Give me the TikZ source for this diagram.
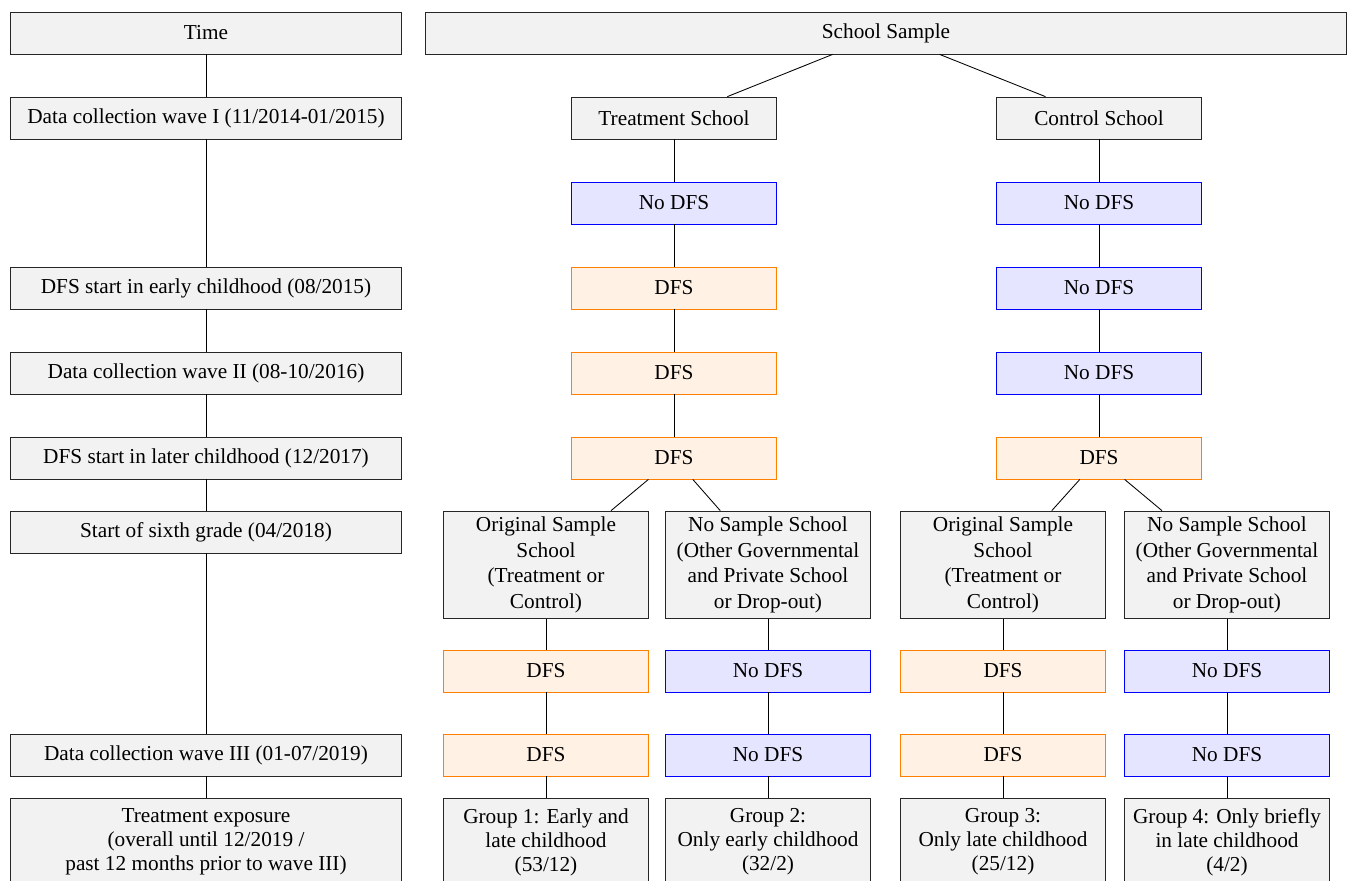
\documentclass[tikz,border=0pt]{standalone}
\usepackage{fontspec}
\setmainfont{Liberation Serif}
\usepackage{xcolor}
\usepackage{tikz}

\definecolor{boxgray}{RGB}{242,242,242}
\tikzset{
  graybox/.style={draw=black!85, fill=boxgray, minimum width=96pt, minimum height=19.7pt, align=center, inner sep=2pt},
  timebox/.style={graybox, minimum width=184pt},
  schoolbox/.style={graybox, inner ysep=2.8pt},
  nodfs/.style={draw=blue, fill=blue!10, minimum width=96pt, minimum height=19.7pt},
  dfsbox/.style={draw=orange, fill=orange!10, minimum width=96pt, minimum height=19.7pt},
  groupbox/.style={graybox, anchor=north, inner ysep=4.8pt, font={\fontsize{10pt}{11.3pt}\selectfont}},
}

\begin{document}
\begin{tikzpicture}[x=0.47pt, y=-0.47pt]
\useasboundingbox (0,0) rectangle (1354,880);

% time line
\node[timebox] (time) at (206,33) {Time};
\node[timebox] (waveI) at (206,118) {Data collection wave I (11/2014-01/2015)};
\node[timebox] (early) at (206,288) {DFS start in early childhood (08/2015)};
\node[timebox] (waveII) at (206,373) {Data collection wave II (08-10/2016)};
\node[timebox] (later) at (206,458) {DFS start in later childhood (12/2017)};
\node[timebox] (sixth) at (206,532) {Start of sixth grade (04/2018)};
\node[timebox] (waveIII) at (206,755) {Data collection wave III (01-07/2019)};
\node[groupbox, minimum width=184pt] (exposure) at (206,798) {Treatment exposure\\(overall until 12/2019 /\\past 12 months prior to wave III)};

\draw (time) -- (waveI);
\draw (waveI) -- (early);
\draw (early) -- (waveII);
\draw (waveII) -- (later);
\draw (later) -- (sixth);
\draw (sixth) -- (waveIII);
\draw (waveIII) -- (exposure);

% school sample
\node[graybox, minimum width=433pt] (sample) at (886,33) {School Sample};
\node[graybox] (treat) at (674,118) {Treatment School};
\node[graybox] (ctrl) at (1099,118) {Control School};

\node[nodfs] (t1) at (674,203) {No DFS};
\node[dfsbox] (t2) at (674,288) {DFS};
\node[dfsbox] (t3) at (674,373) {DFS};
\node[dfsbox] (t4) at (674,458) {DFS};

\node[nodfs] (c1) at (1099,203) {No DFS};
\node[nodfs] (c2) at (1099,288) {No DFS};
\node[nodfs] (c3) at (1099,373) {No DFS};
\node[dfsbox] (c4) at (1099,458) {DFS};

\node[schoolbox] (orig1) at (546,565) {Original Sample\\School\\(Treatment or\\Control)};
\node[schoolbox] (nosample1) at (768,565) {No Sample School\\(Other Governmental\\and Private School\\or Drop-out)};
\node[schoolbox] (orig2) at (1003,565) {Original Sample\\School\\(Treatment or\\Control)};
\node[schoolbox] (nosample2) at (1227,565) {No Sample School\\(Other Governmental\\and Private School\\or Drop-out)};

\node[dfsbox] (o1a) at (546,671) {DFS};
\node[dfsbox] (o1b) at (546,755) {DFS};
\node[nodfs] (n1a) at (768,671) {No DFS};
\node[nodfs] (n1b) at (768,755) {No DFS};
\node[dfsbox] (o2a) at (1003,671) {DFS};
\node[dfsbox] (o2b) at (1003,755) {DFS};
\node[nodfs] (n2a) at (1227,671) {No DFS};
\node[nodfs] (n2b) at (1227,755) {No DFS};

\node[groupbox] (group1) at (546,798) {Group 1: Early and\\late childhood\\(53/12)};
\node[groupbox] (group2) at (768,798) {Group 2:\\Only early childhood\\(32/2)};
\node[groupbox] (group3) at (1003,798) {Group 3:\\Only late childhood\\(25/12)};
\node[groupbox] (group4) at (1227,798) {Group 4: Only briefly\\in late childhood\\(4/2)};

\draw (sample) -- (treat);
\draw (sample) -- (ctrl);
\draw (treat) -- (t1);
\draw (t1) -- (t2);
\draw (t2) -- (t3);
\draw (t3) -- (t4);
\draw (ctrl) -- (c1);
\draw (c1) -- (c2);
\draw (c2) -- (c3);
\draw (c3) -- (c4);
\draw (t4) -- (orig1);
\draw (t4) -- (nosample1);
\draw (c4) -- (orig2);
\draw (c4) -- (nosample2);
\draw (orig1) -- (o1a);
\draw (o1a) -- (o1b);
\draw (o1b) -- (group1);
\draw (nosample1) -- (n1a);
\draw (n1a) -- (n1b);
\draw (n1b) -- (group2);
\draw (orig2) -- (o2a);
\draw (o2a) -- (o2b);
\draw (o2b) -- (group3);
\draw (nosample2) -- (n2a);
\draw (n2a) -- (n2b);
\draw (n2b) -- (group4);
\end{tikzpicture}
\end{document}
